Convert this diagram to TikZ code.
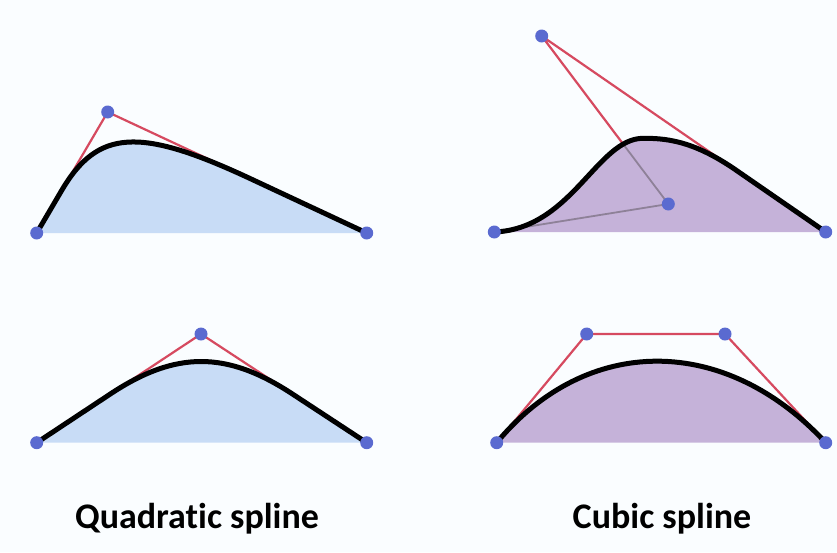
\documentclass[tikz,border=0pt]{standalone}
\usepackage{fontspec}
\setmainfont[Ligatures=NoCommon]{Carlito}
\usetikzlibrary{calc}
\definecolor{bluefill}{HTML}{C8DCF6}
\definecolor{purplefill}{HTML}{C5B2D9}
\definecolor{dotblue}{HTML}{5A6AD0}
\definecolor{ctrlred}{HTML}{D64A60}
\definecolor{ctrlgray}{HTML}{8E8198}
\tikzset{
  ctrl/.style={draw=ctrlred, line width=2.2pt},
  ctrlin/.style={draw=ctrlgray, line width=1.8pt},
  curve/.style={draw=black, line width=5pt, line cap=round},
  pt/.style={circle, fill=dotblue, inner sep=0pt, minimum size=13pt},
  lbl/.style={font=\bfseries\fontsize{36}{40}\selectfont, inner sep=0pt}
}
\begin{document}
\begin{tikzpicture}[x=1pt,y=-1pt]
\fill[white!98!cyan] (0,0) rectangle (837,552);
\useasboundingbox (0,0) rectangle (837,552);

% ---------- top-left quadratic ----------
\coordinate (a0) at (36.7,233);
\coordinate (a1) at (107.7,112);
\coordinate (a2) at (366.7,233);
\coordinate (aA) at ($(a0)!0.35!(a1)$);
\coordinate (aB) at ($(a2)!0.45!(a1)$);
\coordinate (aC1) at ($(aA)!0.78!(a1)$);
\coordinate (aC2) at ($(aB)!0.78!(a1)$);
\fill[bluefill] (a0) -- (aA) .. controls (aC1) and (aC2) .. (aB) -- (a2) -- cycle;
\draw[ctrl] (aA) -- (a1) -- (aB);
\draw[curve] (a0) -- (aA) .. controls (aC1) and (aC2) .. (aB) -- (a2);
\node[pt] (n a0) at (a0) {};
\node[pt] (n a1) at (a1) {};
\node[pt] (n a2) at (a2) {};

% ---------- bottom-left quadratic ----------
\coordinate (b0) at (36.7,442.7);
\coordinate (b1) at (201,334);
\coordinate (b2) at (366.7,442.7);
\coordinate (bA) at ($(b0)!0.45!(b1)$);
\coordinate (bB) at ($(b2)!0.45!(b1)$);
\coordinate (bC1) at ($(bA)!0.72!(b1)$);
\coordinate (bC2) at ($(bB)!0.72!(b1)$);
\fill[bluefill] (b0) -- (bA) .. controls (bC1) and (bC2) .. (bB) -- (b2) -- cycle;
\draw[ctrl] (bA) -- (b1) -- (bB);
\draw[curve] (b0) -- (bA) .. controls (bC1) and (bC2) .. (bB) -- (b2);
\node[pt] (n b0) at (b0) {};
\node[pt] (n b1) at (b1) {};
\node[pt] (n b2) at (b2) {};

% ---------- top-right cubic ----------
\coordinate (c0) at (494.3,232);
\coordinate (c1) at (541.7,36);
\coordinate (c2) at (668.3,204);
\coordinate (c3) at (825.7,232);
\coordinate (cX) at ($(c1)!0.65!(c2)$);
\coordinate (cT) at ($(c1)!0.68!(c3)$);
\coordinate (cP) at (643.3,138.3);
\fill[purplefill] (c0) .. controls (572,229) and (597,138.3) .. (cP)
  .. controls (665,138.3) and (692.2,140.1) .. (cT) -- (c3) -- cycle;
\draw[ctrlin] (c0) -- (c2) -- (cX);
\draw[ctrl] (cX) -- (c1) -- (cT);
\draw[curve] (c0) .. controls (572,229) and (597,138.3) .. (cP)
  .. controls (665,138.3) and (692.2,140.1) .. (cT) -- (c3);
\node[pt] (n c0) at (c0) {};
\node[pt] (n c1) at (c1) {};
\node[pt] (n c2) at (c2) {};
\node[pt] (n c3) at (c3) {};

% ---------- bottom-right cubic ----------
\coordinate (d0) at (496.7,442.7);
\coordinate (d1) at (586.7,334);
\coordinate (d2) at (725,334);
\coordinate (d3) at (825.7,442.7);
\fill[purplefill] (d0) .. controls (d1) and (d2) .. (d3) -- cycle;
\draw[ctrl] (d0) -- (d1) -- (d2) -- (d3);
\draw[curve] (d0) .. controls (d1) and (d2) .. (d3);
\node[pt] (n d0) at (d0) {};
\node[pt] (n d1) at (d1) {};
\node[pt] (n d2) at (d2) {};
\node[pt] (n d3) at (d3) {};

% ---------- labels ----------
\node[lbl, anchor=base] (lq) at (197,528) {Quadratic spline};
\node[lbl, anchor=base] (lc) at (662,528) {Cubic spline};
\end{tikzpicture}
\end{document}
